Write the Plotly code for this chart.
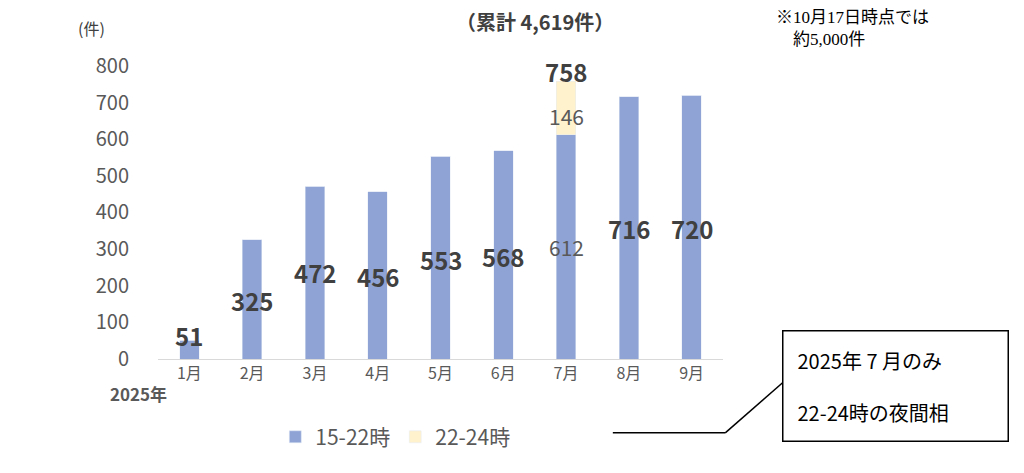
import plotly.graph_objects as go

months = ["1月", "2月", "3月", "4月", "5月", "6月", "7月", "8月", "9月"]
eve = [51, 325, 472, 456, 553, 568, 612, 716, 720]
night = [0, 0, 0, 0, 0, 0, 146, 0, 0]
# where the value labels sit (in data units)
label_y = [65, 160, 237, 226, 272, 280, 305, 355, 355]

fig = go.Figure()
fig.add_trace(go.Bar(x=months, y=eve, name="15-22時", marker_color="#8FA3D5", width=0.31))
fig.add_trace(go.Bar(x=months, y=night, name="22-24時", marker_color="#FFF2CC", width=0.31))

for m, v, ly in zip(months, eve, label_y):
    bold = m != "7月"
    fig.add_annotation(x=m, y=ly, text=f"<b>{v}</b>" if bold else str(v), showarrow=False,
                       font=dict(size=24 if bold else 21, color="#404040" if bold else "#595959"))
fig.add_annotation(x="7月", y=663, text="146", showarrow=False, font=dict(size=21, color="#595959"))
fig.add_annotation(x="7月", y=785, text="<b>758</b>", showarrow=False, font=dict(size=24, color="#404040"))

fig.add_annotation(xref="paper", yref="paper", x=-0.145, y=1.09, yanchor="middle", text="(件)", showarrow=False,
                   font=dict(size=16, color="#404040"))
fig.add_annotation(xref="paper", yref="paper", x=0.81, y=1.11, yanchor="middle", text="<b>（累計 4,619件）</b>",
                   showarrow=False, font=dict(size=20, color="#404040"))
fig.add_annotation(xref="paper", yref="paper", x=1.09, y=1.16, xanchor="left", yanchor="top", align="left",
                   text="※10月17日時点では<br>　約5,000件", showarrow=False,
                   font=dict(size=17, color="#000000", family="Liberation Serif, Noto Sans CJK JP"))
fig.add_annotation(xref="paper", yref="paper", x=-0.088, y=-0.112, yanchor="middle", text="<b>2025年</b>",
                   showarrow=False, font=dict(size=17, color="#595959"))
fig.add_annotation(xref="paper", yref="paper", x=1.306, y=-0.089, xanchor="center", yanchor="middle",
                   text="2025年 7 月のみ<br><br>22-24時の夜間相", showarrow=False, align="left",
                   font=dict(size=20, color="#000000", family="Noto Sans CJK JP"),
                   bordercolor="#000000", borderwidth=1.5, bgcolor="white", borderpad=14, width=196)
fig.add_shape(type="line", xref="paper", yref="paper", x0=0.805, y0=-0.243, x1=1.004, y1=-0.243,
              line=dict(color="black", width=1.5))
fig.add_shape(type="line", xref="paper", yref="paper", x0=1.004, y0=-0.243, x1=1.111, y1=-0.069,
              line=dict(color="black", width=1.5))

fig.update_layout(
    width=1024, height=473, barmode="stack", plot_bgcolor="white", paper_bgcolor="white",
    margin=dict(l=150, r=309, t=47, b=122, autoexpand=False),
    font=dict(family="Noto Sans CJK JP", color="#595959"),
    showlegend=True,
    legend=dict(orientation="h", x=0.42, xanchor="center", y=-0.257, yanchor="middle", traceorder="normal",
                font=dict(size=21, color="#595959")),
    xaxis=dict(showline=True, linecolor="#D9D9D9", tickfont=dict(size=16), ticks=""),
    yaxis=dict(range=[0, 830], showgrid=False, tickfont=dict(size=20),
               tickvals=[0, 100, 200, 300, 400, 500, 600, 700, 800], ticks="", ticklabelstandoff=28),
)
fig.write_html("out.html")
